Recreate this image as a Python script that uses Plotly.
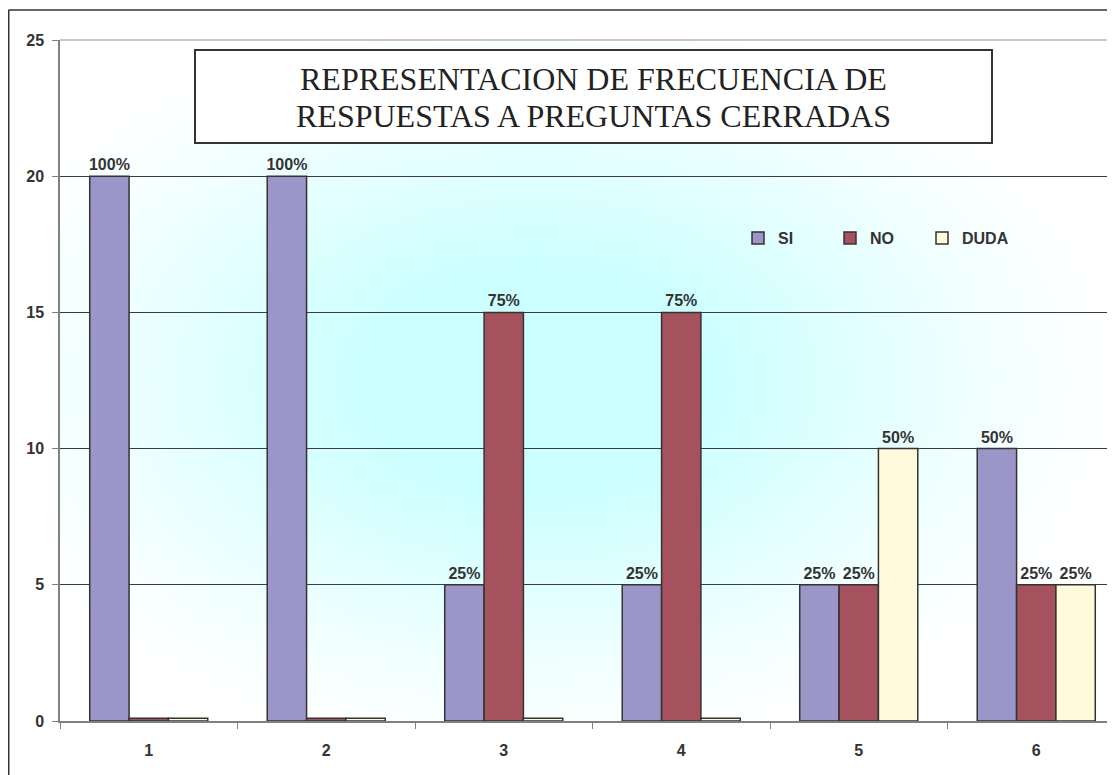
import base64
import plotly.graph_objects as go

# ---------------- data ----------------
categories = ["1", "2", "3", "4", "5", "6"]
si_values = [20, 20, 5, 5, 5, 10]
no_values = [0.1, 0.1, 15, 15, 5, 5]
duda_values = [0.1, 0.1, 0.1, 0.1, 10, 5]
si_labels = ["100%", "100%", "25%", "25%", "25%", "50%"]
no_labels = ["", "", "75%", "75%", "25%", "25%"]
duda_labels = ["", "", "", "", "50%", "25%"]
y_ticks = [0, 5, 10, 15, 20, 25]
title_lines = ["REPRESENTACION DE FRECUENCIA DE", "RESPUESTAS A PREGUNTAS CERRADAS"]

# ---------------- geometry (page pixels; page body has an 8px margin) ----------------
OFF = 8
W, H = 1115 - OFF, 775 - OFF
PLOT_L, PLOT_R, PLOT_T, PLOT_B = 60, 1115, 40, 721  # page coords
L, R = PLOT_L - OFF, 0
T, B = PLOT_T - OFF, H - (PLOT_B - OFF)
PW, PH = W - L - R, H - T - B
CAT_PX = 177.5


def px_x(x):  # page x -> paper
    return (x - PLOT_L) / PW


def px_y(y):  # page y -> paper
    return (PLOT_B - y) / PH


FONT = "Arial, 'Liberation Sans', sans-serif"
SERIF = "'Times New Roman', 'Liberation Serif', serif"
DARK = "#333333"

svg = (
    '<svg xmlns="http://www.w3.org/2000/svg" width="1000" height="1000" '
    'viewBox="0 0 100 100" preserveAspectRatio="none">'
    '<defs><radialGradient id="g" cx="45%" cy="50%" r="55%">'
    '<stop offset="0" stop-color="#ccffff"/>'
    '<stop offset="0.3" stop-color="#ccffff"/>'
    '<stop offset="0.75" stop-color="#f0ffff"/>'
    '<stop offset="1" stop-color="#ffffff"/>'
    '</radialGradient></defs>'
    '<rect x="0" y="0" width="100" height="100" fill="url(#g)"/></svg>'
)
svg_uri = "data:image/svg+xml;base64," + base64.b64encode(svg.encode()).decode()

fig = go.Figure()
series = [
    ("SI", si_values, si_labels, "#9c96c8"),
    ("NO", no_values, no_labels, "#a5515e"),
    ("DUDA", duda_values, duda_labels, "#fffadb"),
]
for name, vals, labels, color in series:
    fig.add_trace(go.Bar(
        name=name, x=categories, y=vals, text=labels,
        textposition="outside", constraintext="none", cliponaxis=False,
        textfont=dict(family=FONT, size=16, color=DARK, weight="bold"),
        marker=dict(color=color, line=dict(color=DARK, width=1.5)),
    ))

title_annots = [
    dict(text=line, xref="paper", yref="paper",
         x=px_x((194 + 992) / 2), y=px_y(yc), xanchor="center", yanchor="middle",
         showarrow=False, font=dict(family=SERIF, size=32, color="#222222"))
    for line, yc in zip(title_lines, [79, 116])
]

fig.update_layout(
    width=W, height=H,
    margin=dict(l=L, r=R, t=T, b=B, pad=0),
    paper_bgcolor="white",
    plot_bgcolor="rgba(0,0,0,0)",
    barmode="group", bargap=0.335, bargroupgap=0,
    font=dict(family=FONT, color=DARK),
    showlegend=True,
    legend=dict(
        orientation="h", x=px_x(738), y=px_y(238), xanchor="left", yanchor="middle",
        bgcolor="rgba(0,0,0,0)", font=dict(family=FONT, size=16, color=DARK, weight="bold"),
        itemwidth=30, entrywidth=47, entrywidthmode="pixels", traceorder="normal",
    ),
    images=[dict(
        source=svg_uri, xref="paper", yref="paper", x=0, y=1, sizex=1, sizey=1,
        sizing="stretch", xanchor="left", yanchor="top", layer="below",
    )],
    annotations=title_annots,
    shapes=[
        dict(type="rect", xref="paper", yref="paper", x0=px_x(195), x1=px_x(992),
             y0=px_y(50), y1=px_y(143), fillcolor="white", line=dict(color=DARK, width=2)),
        dict(type="line", xref="paper", yref="paper", x0=px_x(8.5), x1=px_x(1120),
             y0=px_y(10), y1=px_y(10), line=dict(color=DARK, width=1.5)),
        dict(type="line", xref="paper", yref="paper", x0=px_x(8.75), x1=px_x(8.75),
             y0=px_y(10), y1=px_y(780), line=dict(color=DARK, width=1.5)),
        dict(type="line", xref="paper", yref="paper", x0=0, x1=1,
             y0=1, y1=1, line=dict(color="#a08c8c", width=1.2), layer="below"),
    ],
)

fig.update_xaxes(
    type="category", range=[-0.5, 5.5 - (CAT_PX * 6 - PW) / CAT_PX],
    showline=True, linecolor="#808080", linewidth=1.5,
    ticks="outside", tickson="boundaries", ticklen=6, tickcolor="#808080",
    tickfont=dict(family=FONT, size=16, color=DARK, weight="bold"),
    ticklabelstandoff=14, showgrid=False, zeroline=False,
)
fig.update_yaxes(
    range=[0, 25], tickvals=y_ticks, ticktext=[str(v) for v in y_ticks],
    showline=True, linecolor="#808080", linewidth=1.5,
    ticks="outside", ticklen=6, tickcolor="#808080",
    tickfont=dict(family=FONT, size=16, color=DARK, weight="bold"),
    ticklabelstandoff=5, showgrid=True, gridcolor="#3c3c3c", gridwidth=1, zeroline=False,
)

fig.write_html("out.html")
